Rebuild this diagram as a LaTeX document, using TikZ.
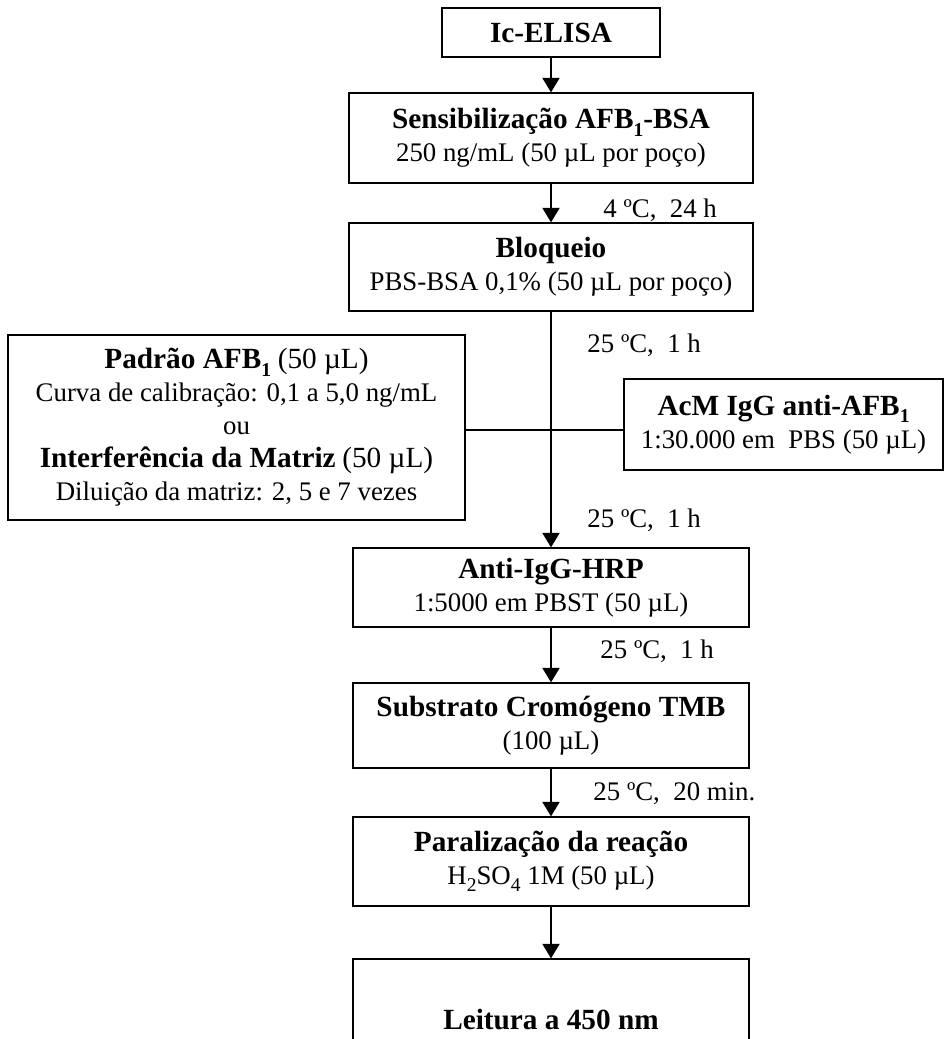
\documentclass[tikz,border=0pt]{standalone}
\usepackage{fontspec}
\setmainfont{Liberation Serif}
\usetikzlibrary{arrows.meta}
\newlength\pxu
\setlength\pxu{0.41pt}
\newcommand{\steptitle}[1]{{\fontsize{12}{13.5}\selectfont\bfseries #1}}
\newcommand{\lowidx}[1]{\raisebox{-0.55ex}{\fontsize{8}{8}\selectfont #1}}
\tikzset{
  stepbox/.style={draw,line width=0.5pt,align=center,inner sep=0pt,
    font=\fontsize{11}{13.5}\selectfont},
  flow/.style={line width=0.9pt,-{Triangle[length=6pt,width=7pt]}},
  cond/.style={anchor=base west,inner sep=0pt,font=\fontsize{11}{13}\selectfont}
}
\begin{document}
\begin{tikzpicture}[x=\pxu,y=-\pxu]
\useasboundingbox (0,0) rectangle (945,1039);
\begin{scope}[every node/.style={stepbox}]
    \node[minimum width=218\pxu,minimum height=49\pxu] (ic) at (551,32.5) {\steptitle{Ic-ELISA}};
    \node[minimum width=404\pxu,minimum height=90\pxu] (sens) at (551,138) {\steptitle{Sensibilização AFB\lowidx{1}-BSA}\\ 250 ng/mL (50 µL por poço)};
    \node[minimum width=404\pxu,minimum height=88\pxu] (bloq) at (551,267) {\steptitle{Bloqueio}\\ PBS-BSA 0,1\% (50 µL por poço)};
    \node[minimum width=457\pxu,minimum height=185\pxu] (padrao) at (236.5,427.5) {\steptitle{Padrão AFB\lowidx{1}} {\fontsize{12}{13.5}\selectfont(50 µL)}\\ Curva de calibração: 0,1 a 5,0 ng/mL\\ ou\\ \steptitle{Interferência da Matriz} {\fontsize{12}{13.5}\selectfont(50 µL)}\\ Diluição da matriz: 2, 5 e 7 vezes};
    \node[minimum width=319\pxu,minimum height=91\pxu] (acm) at (783.5,424.5) {\steptitle{AcM IgG anti-AFB\lowidx{1}}\\ 1:30.000 em~ PBS (50 µL)};
    \node[minimum width=396\pxu,minimum height=79\pxu] (anti) at (551,587.5) {\steptitle{Anti-IgG-HRP}\\ 1:5000 em PBST (50 µL)};
    \node[minimum width=396\pxu,minimum height=85\pxu] (subs) at (551,725.5) {\steptitle{Substrato Cromógeno TMB}\\ (100 µL)};
    \node[minimum width=396\pxu,minimum height=89\pxu] (para) at (551,861.5) {\steptitle{Paralização da reação}\\ H\lowidx{2}SO\lowidx{4} 1M (50 µL)};
    \node[minimum width=396\pxu,minimum height=122\pxu] (leit) at (551,1020) {\steptitle{Leitura a 450 nm}};
\end{scope}
\coordinate (mix) at (551,430);
\draw[flow] (ic) -- (sens);
\draw[flow] (sens) -- (bloq);
\draw[flow] (bloq) -- (anti);
\draw[flow] (anti) -- (subs);
\draw[flow] (subs) -- (para);
\draw[flow] (para) -- (leit);
\draw[line width=0.5pt] (padrao.east |- mix) -- (acm.west |- mix);
\node[cond] (c1) at (603,217) {4 ºC,~ 24 h};
\node[cond] (c2) at (587,352) {25 ºC,~ 1 h};
\node[cond] (c3) at (587,527) {25 ºC,~ 1 h};
\node[cond] (c4) at (600,658) {25 ºC,~ 1 h};
\node[cond] (c5) at (593,800) {25 ºC,~ 20 min.};
\end{tikzpicture}
\end{document}
